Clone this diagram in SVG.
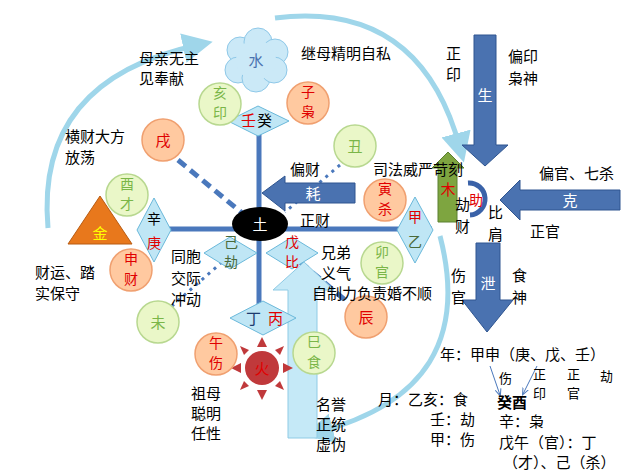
<svg xmlns="http://www.w3.org/2000/svg" width="634" height="475" viewBox="0 0 634 475">
<defs>
<style>
text{font-family:"Noto Sans CJK SC","Liberation Sans",sans-serif;font-size:15px;fill:#000}
.c{text-anchor:middle}
.s{font-size:14px}
.t{font-size:13px}
.r{fill:#e00000}
.g{fill:#7ab648}
.w{fill:#fff}
.bw{fill:#4a6a3a}
.og{fill:#ffc9a0;stroke:#f0a070;stroke-width:1.5}
.gr{fill:#eaf7c8;stroke:#b8d890;stroke-width:1.5}
.dm{fill:#bfe6f5;stroke:#6ab8da;stroke-width:1}
.ba{fill:#4a72b0;stroke:#2f5590;stroke-width:1}
.ln{stroke:#4a78bc;stroke-width:5;fill:none}
.arc{fill:none;stroke:#9fd6ea;stroke-width:5}
.cl{fill:#cbe9f7;stroke:#8ec8e8;stroke-width:1}
</style>
<marker id="ah" markerWidth="6" markerHeight="6" refX="3" refY="3" orient="auto"><path d="M0,0L6,3L0,6z" fill="#9fd6ea"/></marker>
<marker id="sa" markerWidth="8" markerHeight="8" refX="6" refY="4" orient="auto"><path d="M0,1L7,4L0,7" fill="none" stroke="#4a78bc"/></marker>
</defs>

<g id="connectors">
<path class="arc" d="M48,228 Q35,80 198,45" marker-end="url(#ah)"/>
<path class="arc" d="M275,18 Q420,0 460,148" marker-end="url(#ah)"/>
<path class="arc" d="M440,236 Q480,390 318,432" marker-end="url(#ah)"/>
<line class="ln" x1="140" y1="229" x2="432" y2="229"/>
<line class="ln" x1="259" y1="130" x2="259" y2="306"/>
<line x1="178" y1="160" x2="242" y2="213" stroke="#4a78bc" stroke-width="5" stroke-dasharray="10,6"/>
<line x1="300" y1="262" x2="345" y2="300" stroke="#4a78bc" stroke-width="5" stroke-dasharray="10,6"/>
<line x1="340" y1="165" x2="285" y2="212" stroke="#4a78bc" stroke-width="3" stroke-dasharray="3,5"/>
<line x1="222" y1="262" x2="172" y2="306" stroke="#4a78bc" stroke-width="3" stroke-dasharray="3,5"/>
<line x1="490" y1="366" x2="500" y2="395" stroke="#4a78bc" stroke-width="1" marker-end="url(#sa)"/>
<line x1="537" y1="366" x2="523" y2="394" stroke="#4a78bc" stroke-width="1" marker-end="url(#sa)"/>
</g>

<g id="bigarrow"><polygon points="288,438 288,290 273,290 304,262 334,290 317,290 317,438" fill="#c5e9f7" stroke="#8fcbe5"/></g>
<g id="sheng"><polygon class="ba" points="474,35 496,35 496,145 508,145 485,166 462,145 474,145"/><text class="c w" x="485" y="101">生</text></g>
<g id="ke"><polygon class="ba" points="620,190 520,190 520,180 500,200 520,220 520,210 620,210"/><text class="c w" x="570" y="206">克</text></g>
<g id="hao"><polygon class="ba" points="355,183 285,183 285,176 262,193 285,211 285,203 355,203"/><text class="c w" x="313" y="199">耗</text></g>
<g id="xie"><polygon class="ba" points="476,243 500,243 500,300 513,300 487,332 462,300 476,300"/><text class="c w" x="488" y="289">泄</text></g>
<g id="mu"><polygon points="438,222 438,168 432,168 448,152 464,168 457,168 457,222" fill="#7ea540" stroke="#5b8030"/><text class="c r" x="448" y="195">木</text></g>
<g id="zhu"><path d="M468,183 A16,16 0 0 1 470,215" fill="none" stroke="#3a62a8" stroke-width="5"/><text class="c r" x="476" y="205" style="font-size:14px">助</text></g>

<g id="tu"><ellipse cx="260" cy="224" rx="28" ry="17" fill="#000"/><text class="c w" x="260" y="230">土</text></g>
<g id="shui">
<circle class="cl" cx="240" cy="50" r="13"/><circle class="cl" cx="258" cy="42" r="14"/><circle class="cl" cx="275" cy="52" r="13"/>
<circle class="cl" cx="238" cy="70" r="13"/><circle class="cl" cx="256" cy="78" r="14"/><circle class="cl" cx="274" cy="70" r="13"/>
<circle cx="256" cy="60" r="20" fill="#cbe9f7"/>
<text class="c" x="256" y="66" style="fill:#4a72b0">水</text></g>
<g id="jin"><polygon points="100,196 132,244 68,244" fill="#e8781c" stroke="#b85a10"/><text class="c" x="100" y="239" style="fill:#ff0">金</text></g>
<g id="huo" fill="#c0393b">
<polygon points="262,337 257,347 267,347"/><polygon points="262,400 257,390 267,390"/>
<polygon points="231,368 241,363 241,373"/><polygon points="293,368 283,363 283,373"/>
<polygon points="240,346 249,350 244,355"/><polygon points="284,346 275,350 280,355"/>
<polygon points="240,390 249,386 244,381"/><polygon points="284,390 275,386 280,381"/>
<circle cx="262" cy="368" r="17"/><text class="c r" x="262" y="374">火</text></g>

<g id="renggui"><polygon class="dm" points="228,121 258,106 289,121 258,136"/><text class="r" x="241" y="126">壬</text><text x="257" y="126">癸</text></g>
<g id="xingeng"><polygon class="dm" points="154,198 171,230 154,262 137,230"/><text class="c s" x="154" y="224">辛</text><text class="c r s" x="154" y="248">庚</text></g>
<g id="jijie"><polygon class="dm" points="204,253 230,237 257,253 230,269"/><text class="c bw s" x="231" y="247">己</text><text class="c bw s" x="231" y="267">劫</text></g>
<g id="wubi"><polygon class="dm" points="266,253 292,237 318,253 292,269"/><text class="c r s" x="292" y="247">戊</text><text class="c r s" x="292" y="267">比</text></g>
<g id="dingbing"><polygon class="dm" points="230,318 263,301 296,318 263,335"/><text x="246" y="324" style="fill:#1c3a6e">丁</text><text class="r" x="268" y="324">丙</text></g>
<g id="jiayi"><polygon class="dm" points="415,197 433,230 415,263 397,230"/><text class="c r s" x="415" y="222">甲</text><text class="c bw s" x="415" y="247">乙</text></g>

<g id="hai"><circle class="gr" cx="220" cy="104" r="21"/><text class="c g s" x="220" y="98">亥</text><text class="c g s" x="220" y="118">印</text></g>
<g id="zi"><circle class="og" cx="308" cy="103" r="21"/><text class="c r s" x="308" y="97">子</text><text class="c r s" x="308" y="117">枭</text></g>
<g id="xu"><circle class="og" cx="163" cy="140" r="21"/><text class="c r" x="163" y="146">戌</text></g>
<g id="chou"><circle class="gr" cx="355" cy="146" r="21"/><text class="c g" x="355" y="152">丑</text></g>
<g id="you"><circle class="gr" cx="127" cy="195" r="21"/><text class="c g s" x="127" y="189">酉</text><text class="c g s" x="127" y="209">才</text></g>
<g id="yin"><circle class="og" cx="385" cy="200" r="21"/><text class="c r s" x="385" y="194">寅</text><text class="c r s" x="385" y="214">杀</text></g>
<g id="mao"><circle class="gr" cx="382" cy="263" r="21"/><text class="c g s" x="382" y="257">卯</text><text class="c g s" x="382" y="277">官</text></g>
<g id="shen"><circle class="og" cx="131" cy="270" r="21"/><text class="c r s" x="131" y="264">申</text><text class="c r s" x="131" y="284">财</text></g>
<g id="chen"><circle class="og" cx="366" cy="317" r="21"/><text class="c r" x="366" y="323">辰</text></g>
<g id="wei"><circle class="gr" cx="158" cy="322" r="21"/><text class="c g" x="158" y="328">未</text></g>
<g id="wu"><circle class="og" cx="216" cy="354" r="21"/><text class="c r s" x="216" y="348">午</text><text class="c r s" x="216" y="368">伤</text></g>
<g id="si"><circle class="gr" cx="314" cy="353" r="21"/><text class="c g s" x="314" y="347">巳</text><text class="c g s" x="314" y="367">食</text></g>

<g id="labels">
<text x="139" y="64">母亲无主</text><text x="139" y="84">见奉献</text>
<text x="301" y="59">继母精明自私</text>
<text x="65" y="142">横财大方</text><text x="65" y="163">放荡</text>
<text x="290" y="175">偏财</text>
<text x="373" y="175">司法威严苛刻</text>
<text x="446" y="59">正</text><text x="446" y="80">印</text>
<text x="508" y="62">偏印</text><text x="508" y="84">枭神</text>
<text x="539" y="179">偏官、七杀</text>
<text x="300" y="226">正财</text>
<text x="455" y="210">劫</text><text x="455" y="232">财</text>
<text x="488" y="218">比</text><text x="488" y="240">肩</text>
<text x="530" y="237">正官</text>
<text x="171" y="262">同胞</text><text x="171" y="284">交际</text><text x="171" y="305">冲动</text>
<text x="35" y="278">财运、踏</text><text x="35" y="299">实保守</text>
<text x="321" y="258">兄弟</text><text x="321" y="279">义气</text>
<text x="312" y="299">自制力负责婚不顺</text>
<text x="451" y="281">伤</text><text x="451" y="303">官</text>
<text x="512" y="281">食</text><text x="512" y="303">神</text>
<text x="191" y="399">祖母</text><text x="191" y="419">聪明</text><text x="191" y="439">任性</text>
<text x="316" y="410">名誉</text><text x="316" y="430">正统</text><text x="316" y="450">虚伪</text>
<text x="440" y="360">年：甲申（庚、戊、壬）</text>
<text class="t" x="499" y="383">伤</text>
<text class="t" x="533" y="379">正</text><text class="t" x="533" y="398">印</text>
<text class="t" x="567" y="379">正</text><text class="t" x="567" y="398">官</text>
<text class="t" x="600" y="381">劫</text>
<text x="497" y="408" style="font-weight:bold">癸酉</text>
<text x="378" y="405">月：乙亥：食</text>
<text x="430" y="425">壬：劫</text>
<text x="430" y="445">甲：伤</text>
<text x="499" y="427">辛：枭</text>
<text x="499" y="448">戊午（官）：丁</text>
<text x="503" y="468">（才）、己（杀）</text>
</g>
</svg>
